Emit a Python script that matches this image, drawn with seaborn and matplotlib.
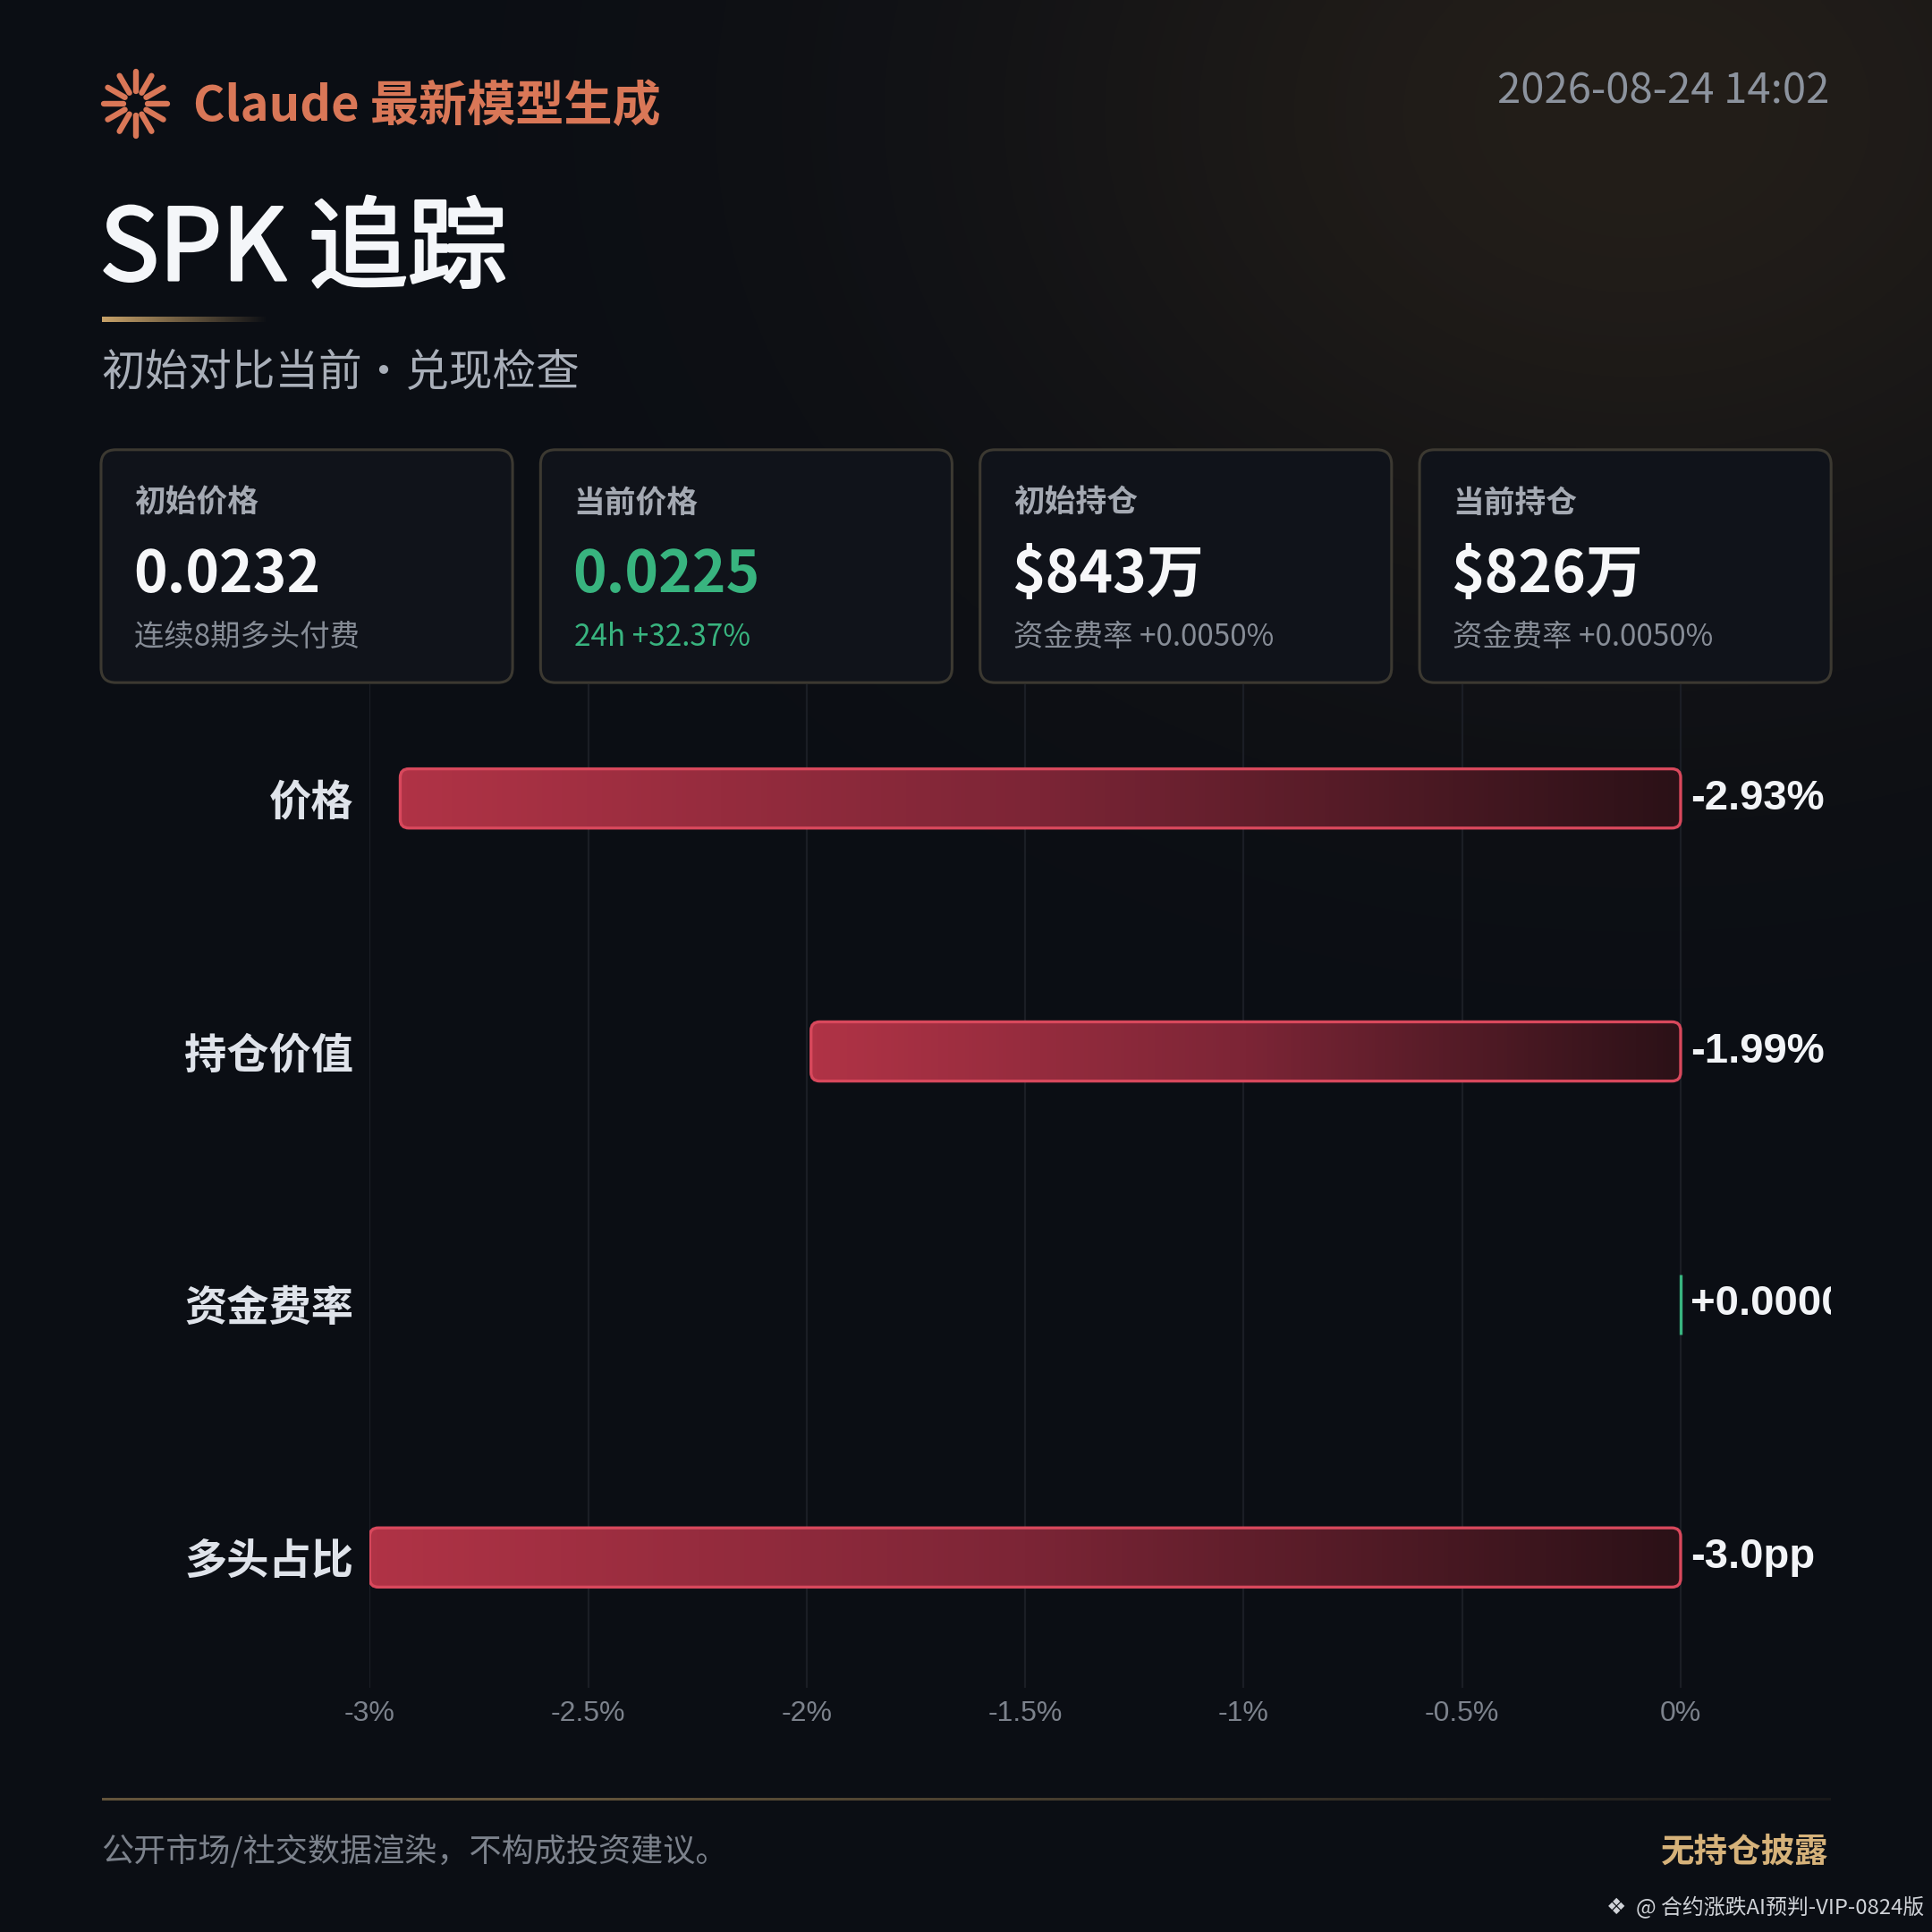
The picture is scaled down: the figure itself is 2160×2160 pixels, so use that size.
import numpy as np
import pandas as pd
import matplotlib
matplotlib.use("Agg")
import matplotlib.pyplot as plt
import matplotlib.patheffects as pe
import seaborn as sns
from matplotlib.patches import FancyBboxPatch
from matplotlib.colors import LinearSegmentedColormap, to_rgb
from matplotlib.transforms import offset_copy

# chart data
metrics = ["价格", "持仓价值", "资金费率", "多头占比"]
changes = [-2.93, -1.99, 0.0, -3.0]
change_labels = ["-2.93%", "-1.99%", "+0.0000%", "-3.0pp"]
tick_values = [-3, -2.5, -2, -1.5, -1, -0.5, 0]
tick_labels = ["-3%", "-2.5%", "-2%", "-1.5%", "-1%", "-0.5%", "0%"]

# summary cards
card_titles = ["初始价格", "当前价格", "初始持仓", "当前持仓"]
card_values = ["0.0232", "0.0225", "$843万", "$826万"]
card_notes = ["连续8期多头付费", "24h +32.37%", "资金费率 +0.0050%", "资金费率 +0.0050%"]
card_accent = [False, True, False, False]

sns.set_style("dark")
plt.rcParams["font.family"] = ["Noto Sans CJK SC", "DejaVu Sans"]

ORANGE = "#d97757"
GREEN = "#38b47f"
GOLD = "#d6b27a"
W = 1568.0

fig = plt.figure(figsize=(10.8, 10.8), dpi=200)
fig.patch.set_facecolor("#0b0e14")

bg = fig.add_axes([0, 0, 1, 1])
bg.axis("off")

# dark background with a warm glow top right
yy, xx = np.mgrid[0:W:392j, 0:W:392j]
base = np.array(to_rgb("#0b0e14"))
warm = np.array(to_rgb("#231e19"))
glow = np.exp(-(((xx - 1330) / 520) ** 2 + ((yy - 90) / 400) ** 2))
img = base + (warm - base) * glow[..., None]
bg.imshow(img, extent=[0, W, W, 0], aspect="auto", zorder=0, interpolation="bilinear")

# logo
cx, cy = 110, 84
for k in range(12):
    a = np.deg2rad(k * 30)
    bg.plot([cx + 10 * np.cos(a), cx + 26 * np.cos(a)],
            [cy + 10 * np.sin(a), cy + 26 * np.sin(a)],
            color=ORANGE, lw=2.3, solid_capstyle="round", zorder=3)
bg.text(157, 87, "Claude 最新模型生成", color=ORANGE, fontsize=19.5, fontweight="bold",
        ha="left", va="center", zorder=3)
bg.text(1485, 74, "2026-08-24 14:02", color="#8c939e", fontsize=17,
        ha="right", va="center", zorder=3)

title = bg.text(81, 204, "SPK 追踪", color="#f4f6f9", fontsize=40,
                ha="left", va="center", zorder=3)
title.set_path_effects([pe.withStroke(linewidth=1.1, foreground="#f4f6f9")])
line = np.zeros((1, 256, 4))
line[..., :3] = to_rgb("#c9a36a")
line[..., 3] = np.linspace(1, 0, 256)
bg.imshow(line, extent=[83, 218, 261, 257], aspect="auto", zorder=3)
bg.text(82, 303, "初始对比当前·兑现检查", color="#a9afb9", fontsize=17.5,
        ha="left", va="center", zorder=3)

# cards
for i in range(4):
    x0 = 82 + i * 356.7
    bg.add_patch(FancyBboxPatch((x0, 365), 334, 189,
                                boxstyle="round,pad=0,rounding_size=12",
                                fc="#10131a", ec="#3c3931", lw=1.1, zorder=2))
    bg.text(x0 + 27, 408, card_titles[i], color="#a4a9b2", fontsize=12.5,
            fontweight="bold", ha="left", va="center", zorder=3)
    bg.text(x0 + 26, 467, card_values[i], color=GREEN if card_accent[i] else "#f6f7f9",
            fontsize=23, fontweight="bold", ha="left", va="center", zorder=3)
    bg.text(x0 + 27, 517, card_notes[i], color=GREEN if card_accent[i] else "#868c96",
            fontsize=12, ha="left", va="center", zorder=3)

# footer
fl = np.zeros((1, 512, 4))
fl[..., :3] = to_rgb("#6e5d40")
fl[..., 3] = np.clip(np.linspace(1.3, 0.15, 512), 0, 1) * 0.9
bg.imshow(fl, extent=[83, 1486, 1461, 1459], aspect="auto", zorder=3)
bg.text(82, 1503, "公开市场/社交数据渲染，不构成投资建议。", color="#7c828c", fontsize=13,
        ha="left", va="center", zorder=3)
bg.text(1484, 1503, "无持仓披露", color=GOLD, fontsize=13.5, fontweight="bold",
        ha="right", va="center", zorder=3)
bg.text(1312, 1548, "❖", color="#d0d3d8", fontsize=9, family=["DejaVu Sans"],
        ha="center", va="center", zorder=3)
bg.text(1562, 1548, "@ 合约涨跌AI预判-VIP-0824版", color="#d0d3d8", fontsize=8.6,
        ha="right", va="center", zorder=3)
bg.set_xlim(0, W)
bg.set_ylim(W, 0)

# bar chart
ax = fig.add_axes([300 / W, 1 - 1370 / W, (1486 - 300) / W, (1370 - 555) / W])
ax.set_facecolor("none")
df = pd.DataFrame({"指标": metrics, "变化": changes})
sns.barplot(data=df, x="变化", y="指标", hue="指标", palette=["#b23448"] * 4,
            orient="h", width=0.234, legend=False, ax=ax, zorder=2)

px_x = 1064 / 3.0
px_y = 205.3
rad = 7 / px_x
bar_cmap = LinearSegmentedColormap.from_list("bar", ["#b03346", "#7c2536", "#2b1117"])
for p in list(ax.patches):
    x, w = p.get_x(), p.get_width()
    y, h = p.get_y(), p.get_height()
    x0, x1 = min(x, x + w), max(x, x + w)
    if x1 - x0 < 1e-9:
        p.set_facecolor("none")
        p.set_edgecolor(GREEN)
        p.set_linewidth(1.2)
        continue
    p.set_visible(False)
    box = FancyBboxPatch((x0, y), x1 - x0, h, boxstyle=f"round,pad=0,rounding_size={rad}",
                         mutation_aspect=px_x / px_y, fc="none", ec="#d8485c", lw=1.2, zorder=3)
    ax.add_patch(box)
    im = ax.imshow(np.linspace(0, 1, 256)[None, :], cmap=bar_cmap, extent=[x0, x1, y + h, y],
                   aspect="auto", zorder=2, interpolation="bilinear")
    im.set_clip_path(box)

off = offset_copy(ax.transData, fig=fig, x=11, y=0, units="dots")
for i, lab in enumerate(change_labels):
    ax.text(0, i, lab, transform=off, color="#f2f4f7", fontsize=17, fontweight="bold",
            family=["Liberation Sans"], ha="left", va="center", clip_on=True, zorder=4)

ax.set_xlim(-3, (1486 - 1364) / px_x)
ax.set_ylim(3.516, -0.453)
ax.set_xticks(tick_values)
ax.set_xticklabels(tick_labels, family=["Liberation Sans"], fontsize=11.5, color="#7c828c")
ax.set_yticks(range(len(metrics)))
ax.set_yticklabels(metrics, fontsize=17, fontweight="bold", color="#dfe3ea")
ax.tick_params(axis="x", length=0, pad=5)
ax.tick_params(axis="y", length=0, pad=6.5)
ax.grid(axis="x", color="#1b1e25", lw=0.8)
ax.grid(axis="y", visible=False)
ax.set_axisbelow(True)
ax.set_xlabel("")
ax.set_ylabel("")
for s in ax.spines.values():
    s.set_visible(False)

fig.savefig("out.png", dpi=200, facecolor=fig.get_facecolor())
